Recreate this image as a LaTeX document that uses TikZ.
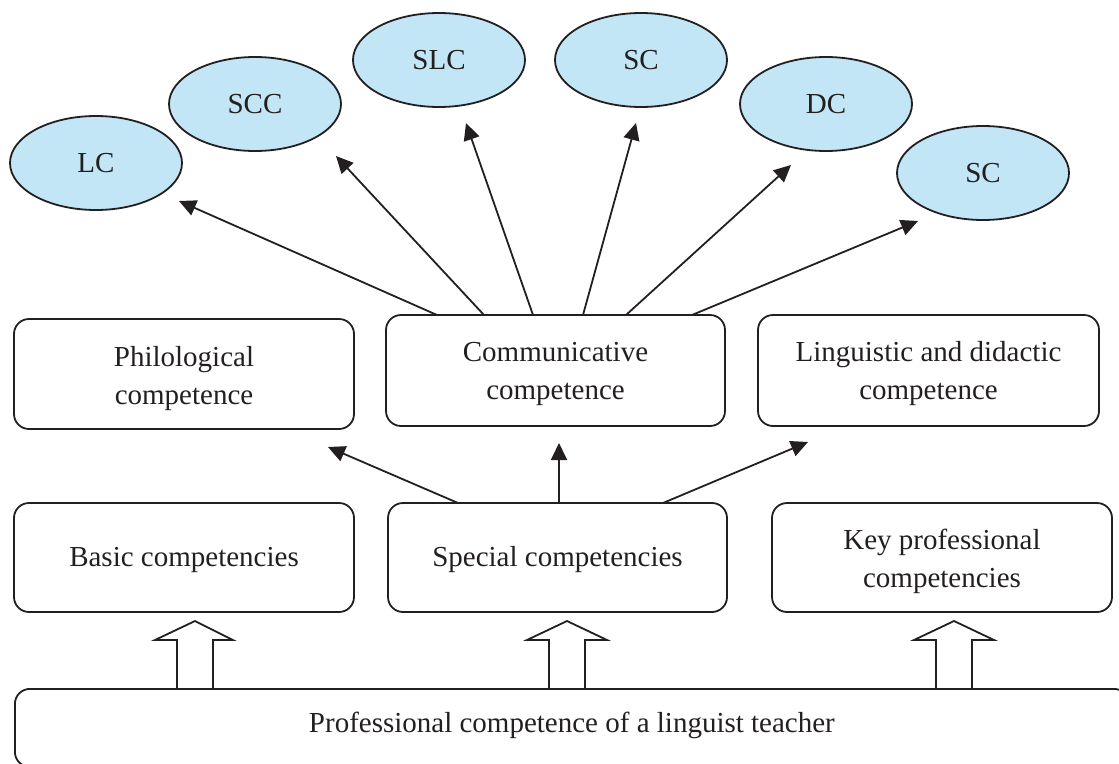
\documentclass[tikz,border=0pt]{standalone}
\usepackage{fontspec}
\setmainfont{Liberation Serif}
\usetikzlibrary{arrows.meta,shapes.geometric}
\definecolor{ellfill}{RGB}{194,230,245}
\definecolor{ink}{RGB}{35,31,32}
\begin{document}
\begin{tikzpicture}[x=1pt,y=-1pt,
  lbl/.style={font=\fontsize{29}{38}\selectfont, align=center, text=ink},
  box/.style={draw=ink, line width=1.8pt, rounded corners=15pt, inner sep=0pt},
  ell/.style={lbl, ellipse, draw=ink, line width=1.8pt, fill=ellfill, minimum width=172pt, minimum height=94pt, inner sep=0pt},
  arr/.style={draw=ink, line width=1.8pt, -{Triangle[length=17pt,width=16pt]}},
  hollow/.style={draw=ink, line width=1.8pt, line join=miter}]
\useasboundingbox (0,0) rectangle (1119,763);

% ellipses
\node[ell] (lc)   at (96,163)  {LC};
\node[ell] (scc)  at (255,104) {SCC};
\node[ell] (slc)  at (439,60)  {SLC};
\node[ell] (sc1)  at (641,60)  {SC};
\node[ell] (dc)   at (826,104) {DC};
\node[ell] (sc2)  at (983,173) {SC};

% middle row
\node[box, minimum width=340pt, minimum height=110pt,
  label={[lbl, yshift=-5pt]center:Philological\\competence}] (phil) at (184,374) {};
\node[box, minimum width=339pt, minimum height=111pt,
  label={[lbl, yshift=-3pt]center:Communicative\\competence}] (comm) at (555.5,370.5) {};
\node[box, minimum width=341pt, minimum height=111pt,
  label={[lbl, yshift=-3pt]center:Linguistic and didactic\\competence}] (ling) at (928.5,370.5) {};

% lower row
\node[box, minimum width=340pt, minimum height=109pt,
  label={[lbl, yshift=-2pt]center:Basic competencies}] (basic) at (184,557.5) {};
\node[box, minimum width=339pt, minimum height=109pt,
  label={[lbl, yshift=-2pt]center:Special competencies}] (spec) at (557.5,557.5) {};
\node[box, minimum width=340pt, minimum height=109pt,
  label={[lbl, yshift=-4pt]center:Key professional\\competencies}] (key) at (942,557.5) {};

% bottom box
\node[box, anchor=north west, minimum width=1114pt, minimum height=78pt,
  label={[lbl, yshift=2pt]center:Professional competence of a linguist teacher}] (prof) at (14,688) {};

% arrow ends
\coordinate (c1) at (437,315); \coordinate (t1) at (179,201);
\coordinate (c2) at (484,315); \coordinate (t2) at (336,156);
\coordinate (c3) at (533,315); \coordinate (t3) at (466,123);
\coordinate (c4) at (583,315); \coordinate (t4) at (636,123);
\coordinate (c5) at (626,315); \coordinate (t5) at (791,165);
\coordinate (c6) at (692,315); \coordinate (t6) at (918,221);

\draw[arr] (c1) -- (t1);
\draw[arr] (c2) -- (t2);
\draw[arr] (c3) -- (t3);
\draw[arr] (c4) -- (t4);
\draw[arr] (c5) -- (t5);
\draw[arr] (c6) -- (t6);

\coordinate (s1) at (458,503); \coordinate (u1) at (328,447);
\coordinate (s2) at (559,503); \coordinate (u2) at (559,443);
\coordinate (s3) at (663,503); \coordinate (u3) at (808,442);
\draw[arr] (s1) -- (u1);
\draw[arr] (s2) -- (u2);
\draw[arr] (s3) -- (u3);

% hollow arrows
\draw[hollow] (177,688) -- (177,640) -- (155,640) -- (195,621) -- (233,640) -- (213,640) -- (213,688);
\draw[hollow] (549,688) -- (549,640) -- (527,640) -- (567,621) -- (607,640) -- (585,640) -- (585,688);
\draw[hollow] (936,688) -- (936,640) -- (914,640) -- (954,621) -- (994,640) -- (972,640) -- (972,688);
\end{tikzpicture}
\end{document}
